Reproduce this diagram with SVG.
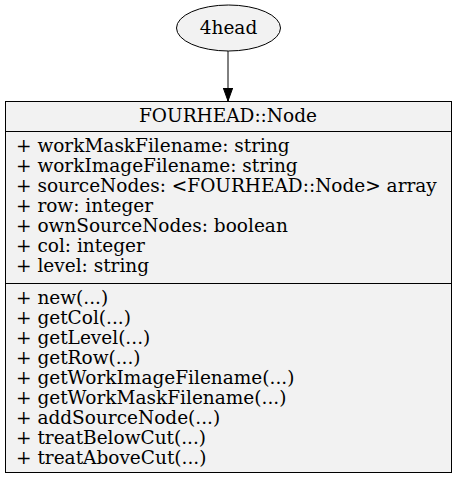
<svg xmlns="http://www.w3.org/2000/svg" width="457" height="480" viewBox="0 0 457 480">
  <defs>
    <marker id="arrow" markerWidth="14" markerHeight="12" refX="13" refY="6" orient="auto" markerUnits="userSpaceOnUse">
      <path d="M0,1.3 L13,6 L0,10.7 Z" fill="#000" stroke="#000"/>
    </marker>
  </defs>
  <style>
    text { font-family: "DejaVu Serif", "Liberation Serif", serif; font-size: 18.5px; fill: #000; }
    .shape { fill: #f2f2f2; stroke: #000; stroke-width: 1; }
    .rule { stroke: #000; stroke-width: 1; }
    .edge { stroke: #000; stroke-width: 1; fill: none; }
  </style>
  <rect width="457" height="480" fill="#fff"/>

  <g id="connectors">
    <line class="edge" x1="228" y1="51" x2="228" y2="101" marker-end="url(#arrow)"/>
  </g>

  <g id="node-4head">
    <ellipse class="shape" cx="228.5" cy="28" rx="52" ry="23"/>
    <text x="228.5" y="34" text-anchor="middle">4head</text>
  </g>

  <g id="node-fourhead-node">
    <rect class="shape" x="5.5" y="101.5" width="446" height="371"/>
    <line class="rule" x1="5.5" y1="131.5" x2="451.5" y2="131.5"/>
    <line class="rule" x1="5.5" y1="283.5" x2="451.5" y2="283.5"/>
    <text x="228" y="122" text-anchor="middle">FOURHEAD::Node</text>
    <text x="16" y="152">+ workMaskFilename: string</text>
    <text x="16" y="172">+ workImageFilename: string</text>
    <text x="16" y="192">+ sourceNodes: &lt;FOURHEAD::Node&gt; array</text>
    <text x="16" y="212">+ row: integer</text>
    <text x="16" y="232">+ ownSourceNodes: boolean</text>
    <text x="16" y="252">+ col: integer</text>
    <text x="16" y="272">+ level: string</text>
    <text x="16" y="304">+ new(...)</text>
    <text x="16" y="324">+ getCol(...)</text>
    <text x="16" y="344">+ getLevel(...)</text>
    <text x="16" y="364">+ getRow(...)</text>
    <text x="16" y="384">+ getWorkImageFilename(...)</text>
    <text x="16" y="404">+ getWorkMaskFilename(...)</text>
    <text x="16" y="424">+ addSourceNode(...)</text>
    <text x="16" y="444">+ treatBelowCut(...)</text>
    <text x="16" y="464">+ treatAboveCut(...)</text>
  </g>
</svg>
